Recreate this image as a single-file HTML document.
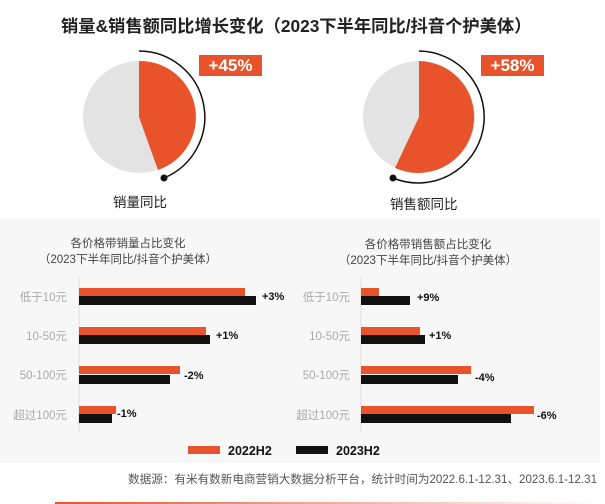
<!DOCTYPE html>
<html><head><meta charset="utf-8"><style>
body{margin:0;width:605px;height:504px;background:#fff;overflow:hidden;position:relative;font-family:"Liberation Sans","Noto Sans CJK SC",sans-serif;}
.a{position:absolute;white-space:nowrap;}
</style></head><body>
<div class="a" style="left:0;top:218px;width:600px;height:245px;background:#f7f7f7"></div>
<div class="a" style="left:61px;top:12px;font-size:17.3px;font-weight:bold;color:#222">销量&amp;销售额同比增长变化（2023下半年同比/抖音个护美体）</div>
<svg class="a" style="left:0;top:0" width="605" height="220">
<circle cx="139" cy="117" r="56" fill="#e3e3e3"/>
<path d="M139 117 L139 61 A56 56 0 0 1 158 170 Z" fill="#e8532b"/>
<path d="M139 51 A66 66 0 0 1 164 178" fill="none" stroke="#111" stroke-width="1.5"/>
<circle cx="164" cy="178" r="3.5" fill="#111"/>
<circle cx="419" cy="117" r="56" fill="#e3e3e3"/>
<path d="M419 117 L419 61 A56 56 0 1 1 395 168 Z" fill="#e8532b"/>
<path d="M419 51 A66 66 0 1 1 393 178" fill="none" stroke="#111" stroke-width="1.5"/>
<circle cx="393" cy="178" r="3.5" fill="#111"/>
</svg>
<div class="a" style="left:199px;top:55px;width:63px;height:21px;background:#e8532b;color:#fff;font-weight:bold;font-size:17px;text-align:center;line-height:21px">+45%</div>
<div class="a" style="left:481px;top:55px;width:63px;height:21px;background:#e8532b;color:#fff;font-weight:bold;font-size:17px;text-align:center;line-height:21px">+58%</div>
<div class="a" style="left:113px;top:191px;font-size:13.5px;color:#222">销量同比</div>
<div class="a" style="left:390px;top:193px;font-size:13.5px;color:#222">销售额同比</div>
<div class="a" style="left:28px;top:236px;width:200px;text-align:center;font-size:11.5px;color:#444;line-height:16px">各价格带销量占比变化<br>（2023下半年同比/抖音个护美体）</div>
<div class="a" style="left:328px;top:237px;width:200px;text-align:center;font-size:11.5px;color:#444;line-height:16px">各价格带销售额占比变化<br>（2023下半年同比/抖音个护美体）</div>
<svg class="a" style="left:0;top:220px" width="605" height="284" font-family="Liberation Sans,Noto Sans CJK SC,sans-serif">
<line x1="79" y1="57" x2="79" y2="213" stroke="#ddd"/>
<line x1="361" y1="57" x2="361" y2="213" stroke="#ddd"/>
<g fill="#e8532b">
<rect x="79" y="68" width="166" height="8"/><rect x="79" y="107" width="127" height="8"/><rect x="79" y="146" width="101" height="8"/><rect x="79" y="186" width="37" height="8"/>
<rect x="361" y="68" width="18" height="8"/><rect x="361" y="107" width="59" height="8"/><rect x="361" y="146" width="110" height="8"/><rect x="361" y="186" width="173" height="8"/>
</g>
<g fill="#111">
<rect x="79" y="76" width="177" height="9"/><rect x="79" y="115" width="131" height="9"/><rect x="79" y="155" width="91" height="9"/><rect x="79" y="194" width="33" height="9"/>
<rect x="361" y="76" width="49" height="9"/><rect x="361" y="115" width="64" height="9"/><rect x="361" y="155" width="97" height="9"/><rect x="361" y="194" width="150" height="9"/>
</g>
<g font-size="11.5" fill="#aaa" text-anchor="end">
<text x="67" y="81">低于10元</text><text x="67" y="120">10-50元</text><text x="67" y="159">50-100元</text><text x="67" y="199">超过100元</text>
<text x="350" y="81">低于10元</text><text x="350" y="120">10-50元</text><text x="350" y="159">50-100元</text><text x="350" y="199">超过100元</text>
</g>
<g font-size="11" font-weight="bold" fill="#111">
<text x="262" y="80">+3%</text><text x="216" y="119">+1%</text><text x="184" y="159">-2%</text><text x="117" y="197">-1%</text>
<text x="417" y="81">+9%</text><text x="429" y="119">+1%</text><text x="475" y="161">-4%</text><text x="537" y="199">-6%</text>
</g>
<rect x="188" y="226" width="32" height="8" fill="#e8532b"/>
<rect x="296" y="226" width="32" height="8" fill="#111"/>
<text x="228" y="235" font-size="12.5" font-weight="bold" fill="#111">2022H2</text>
<text x="336" y="235" font-size="12.5" font-weight="bold" fill="#111">2023H2</text>
</svg>
<div class="a" style="left:128px;top:471px;font-size:11.6px;color:#555">数据源：有米有数新电商营销大数据分析平台，统计时间为2022.6.1-12.31、2023.6.1-12.31</div>
<div class="a" style="left:55px;top:502px;width:545px;height:2px;background:linear-gradient(90deg,#e8532b,#fff)"></div>
</body></html>
